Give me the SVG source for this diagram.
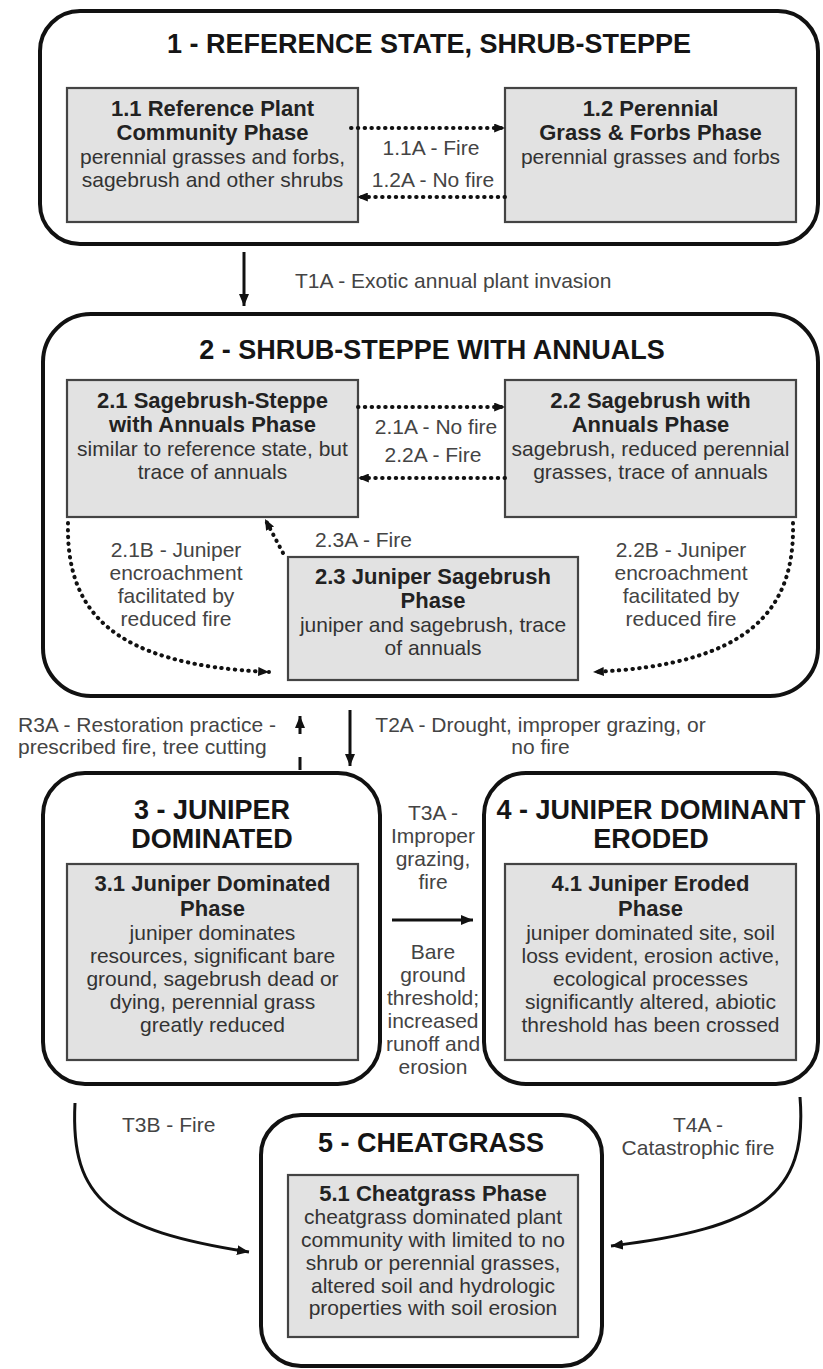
<svg xmlns="http://www.w3.org/2000/svg" width="823" height="1369" viewBox="0 0 823 1369">
<style>
text{font-family:"Liberation Sans",Arial,Helvetica,sans-serif;text-anchor:middle}
.st{fill:#fff;stroke:#111;stroke-width:4}
.ph{fill:#e2e2e2;stroke:#444;stroke-width:2.2}
.stt{font-size:27px;font-weight:bold;fill:#151515}
.pht{font-size:22px;font-weight:bold;fill:#222}
.bd{font-size:21px;fill:#333}
.lbl{font-size:21px;fill:#444}
.start{text-anchor:start}
.dot{fill:none;stroke:#111;stroke-width:4;stroke-linecap:round;stroke-dasharray:0.5 6.3}
.sol{fill:none;stroke:#111;stroke-width:3}
</style>
<defs>
<marker id="ah" viewBox="0 0 12 10" refX="12" refY="5" markerWidth="12" markerHeight="10" markerUnits="userSpaceOnUse" orient="auto">
<path d="M0,0 L12,5 L0,10 z" fill="#111"/>
</marker>
<marker id="ahs" viewBox="0 0 12 10" refX="12" refY="5" markerWidth="11" markerHeight="9" markerUnits="userSpaceOnUse" orient="auto">
<path d="M0,0 L12,5 L0,10 z" fill="#111"/>
</marker>
</defs>

<g id="state1">
<rect class="st" x="40" y="11" width="778" height="233" rx="40"/>
<text class="stt" x="429" y="53">1 - REFERENCE STATE, SHRUB-STEPPE</text>
</g>
<g id="phase1_1">
<rect class="ph" x="67" y="88" width="291" height="134"/>
<text class="pht" x="212.5" y="116">1.1 Reference Plant</text>
<text class="pht" x="212.5" y="140">Community Phase</text>
<text class="bd" x="212.5" y="164">perennial grasses and forbs,</text>
<text class="bd" x="212.5" y="187">sagebrush and other shrubs</text>
</g>
<g id="phase1_2">
<rect class="ph" x="505" y="88" width="291" height="134"/>
<text class="pht" x="650.5" y="116">1.2 Perennial</text>
<text class="pht" x="650.5" y="140">Grass &amp; Forbs Phase</text>
<text class="bd" x="650.5" y="164">perennial grasses and forbs</text>
</g>

<g id="state2">
<rect class="st" x="43" y="314" width="775" height="382" rx="48"/>
<text class="stt" x="432" y="359">2 - SHRUB-STEPPE WITH ANNUALS</text>
</g>
<g id="phase2_1">
<rect class="ph" x="67" y="380" width="291" height="137"/>
<text class="pht" x="212.5" y="408">2.1 Sagebrush-Steppe</text>
<text class="pht" x="212.5" y="432">with Annuals Phase</text>
<text class="bd" x="212.5" y="456">similar to reference state, but</text>
<text class="bd" x="212.5" y="479">trace of annuals</text>
</g>
<g id="phase2_2">
<rect class="ph" x="505" y="380" width="291" height="137"/>
<text class="pht" x="650.5" y="408">2.2 Sagebrush with</text>
<text class="pht" x="650.5" y="432">Annuals Phase</text>
<text class="bd" x="650.5" y="456">sagebrush, reduced perennial</text>
<text class="bd" x="650.5" y="479">grasses, trace of annuals</text>
</g>
<g id="phase2_3">
<rect class="ph" x="288" y="557" width="290" height="123"/>
<text class="pht" x="433" y="584">2.3 Juniper Sagebrush</text>
<text class="pht" x="433" y="608">Phase</text>
<text class="bd" x="433" y="632">juniper and sagebrush, trace</text>
<text class="bd" x="433" y="655">of annuals</text>
</g>

<g id="state3">
<rect class="st" x="43" y="773" width="337" height="311" rx="42"/>
<text class="stt" x="212" y="819">3 - JUNIPER</text>
<text class="stt" x="212" y="848">DOMINATED</text>
</g>
<g id="phase3_1">
<rect class="ph" x="67" y="864" width="291" height="196"/>
<text class="pht" x="212.5" y="891">3.1 Juniper Dominated</text>
<text class="pht" x="212.5" y="916">Phase</text>
<text class="bd" x="212.5" y="940">juniper dominates</text>
<text class="bd" x="212.5" y="963">resources, significant bare</text>
<text class="bd" x="212.5" y="986">ground, sagebrush dead or</text>
<text class="bd" x="212.5" y="1009">dying, perennial grass</text>
<text class="bd" x="212.5" y="1032">greatly reduced</text>
</g>

<g id="state4">
<rect class="st" x="484" y="773" width="334" height="311" rx="42"/>
<text class="stt" x="651" y="819">4 - JUNIPER DOMINANT</text>
<text class="stt" x="651" y="848">ERODED</text>
</g>
<g id="phase4_1">
<rect class="ph" x="505" y="864" width="291" height="196"/>
<text class="pht" x="650.5" y="891">4.1 Juniper Eroded</text>
<text class="pht" x="650.5" y="916">Phase</text>
<text class="bd" x="650.5" y="940">juniper dominated site, soil</text>
<text class="bd" x="650.5" y="963">loss evident, erosion active,</text>
<text class="bd" x="650.5" y="986">ecological processes</text>
<text class="bd" x="650.5" y="1009">significantly altered, abiotic</text>
<text class="bd" x="650.5" y="1032">threshold has been crossed</text>
</g>

<g id="state5">
<rect class="st" x="261" y="1115" width="341" height="251" rx="40"/>
<text class="stt" x="431" y="1152">5 - CHEATGRASS</text>
</g>
<g id="phase5_1">
<rect class="ph" x="288" y="1175" width="290" height="162"/>
<text class="pht" x="433" y="1201">5.1 Cheatgrass Phase</text>
<text class="bd" x="433" y="1224">cheatgrass dominated plant</text>
<text class="bd" x="433" y="1247">community with limited to no</text>
<text class="bd" x="433" y="1270">shrub or perennial grasses,</text>
<text class="bd" x="433" y="1293">altered soil and hydrologic</text>
<text class="bd" x="433" y="1315">properties with soil erosion</text>
</g>

<g id="connectors">
<path class="dot" d="M351,128 L505,128" marker-end="url(#ahs)"/>
<path class="dot" d="M505,197 L357,197" marker-end="url(#ahs)"/>
<path class="dot" d="M358,407 L505,407" marker-end="url(#ahs)"/>
<path class="dot" d="M505,478 L358,478" marker-end="url(#ahs)"/>
<path class="dot" d="M283,553 L265,519" marker-end="url(#ahs)"/>
<path class="dot" d="M68,523 C66,610 110,665 269,672" marker-end="url(#ahs)"/>
<path class="dot" d="M793,523 C795,610 750,665 593,672" marker-end="url(#ahs)"/>
<path class="sol" d="M244,252 L244,306" stroke-width="2.5" marker-end="url(#ah)"/>
<path class="sol" d="M300,770 L300,716" stroke-width="4" stroke-dasharray="13 23 20" marker-end="url(#ah)"/>
<path class="sol" d="M350,710 L350,766" stroke-width="2.5" marker-end="url(#ah)"/>
<path class="sol" d="M392,920 L473,920" marker-end="url(#ah)"/>
<path class="sol" d="M75,1103 C70,1200 110,1230 249,1252" marker-end="url(#ah)"/>
<path class="sol" d="M800,1097 C808,1195 760,1228 611,1246" marker-end="url(#ah)"/>

<text class="lbl" x="431" y="155">1.1A - Fire</text>
<text class="lbl" x="433" y="187">1.2A - No fire</text>
<text class="lbl start" x="295" y="288">T1A - Exotic annual plant invasion</text>
<text class="lbl" x="436" y="434">2.1A - No fire</text>
<text class="lbl" x="433" y="462">2.2A - Fire</text>
<text class="lbl start" x="315" y="547">2.3A - Fire</text>
<text class="lbl" x="176" y="557">2.1B - Juniper</text>
<text class="lbl" x="176" y="580">encroachment</text>
<text class="lbl" x="176" y="603">facilitated by</text>
<text class="lbl" x="176" y="626">reduced fire</text>
<text class="lbl" x="681" y="557">2.2B - Juniper</text>
<text class="lbl" x="681" y="580">encroachment</text>
<text class="lbl" x="681" y="603">facilitated by</text>
<text class="lbl" x="681" y="626">reduced fire</text>
<text class="lbl start" x="18" y="732">R3A - Restoration practice -</text>
<text class="lbl start" x="18" y="754">prescribed fire, tree cutting</text>
<text class="lbl" x="540.5" y="732">T2A - Drought, improper grazing, or</text>
<text class="lbl" x="540.5" y="754">no fire</text>
<text class="lbl" x="433" y="820">T3A -</text>
<text class="lbl" x="433" y="843">Improper</text>
<text class="lbl" x="433" y="866">grazing,</text>
<text class="lbl" x="433" y="889">fire</text>
<text class="lbl" x="433" y="959">Bare</text>
<text class="lbl" x="433" y="982">ground</text>
<text class="lbl" x="433" y="1005">threshold;</text>
<text class="lbl" x="433" y="1028">increased</text>
<text class="lbl" x="433" y="1051">runoff and</text>
<text class="lbl" x="433" y="1074">erosion</text>
<text class="lbl start" x="122" y="1132">T3B - Fire</text>
<text class="lbl" x="698" y="1132">T4A -</text>
<text class="lbl" x="698" y="1155">Catastrophic fire</text>
</g>
</svg>
